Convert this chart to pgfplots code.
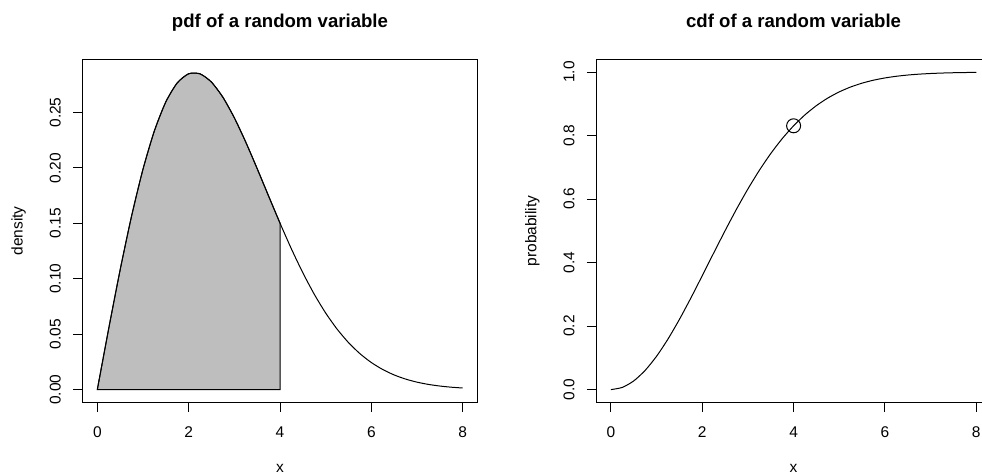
\documentclass[border=0pt]{standalone}
\usepackage{fontspec}
\setmainfont{Liberation Sans}
\usepackage{pgfplots}
\pgfplotsset{compat=1.18}
\definecolor{rgray}{RGB}{190,190,190}

% density and distribution
\pgfplotstableread{
x     pdf     cdf
0.00  0.00000 0.00000
0.25  0.05517 0.00692
0.50  0.10807 0.02740
0.75  0.15657 0.06059
1.00  0.19885 0.10516
1.25  0.23351 0.15938
1.50  0.25960 0.22120
1.75  0.27673 0.28841
2.00  0.28497 0.35882
2.25  0.28489 0.43022
2.50  0.27742 0.50065
2.75  0.26375 0.56841
3.00  0.24525 0.63212
3.25  0.22334 0.69076
3.50  0.19940 0.74363
3.75  0.17468 0.79039
4.00  0.15023 0.83099
4.25  0.12692 0.86561
4.50  0.10540 0.89460
4.75  0.08605 0.91848
5.00  0.06909 0.93782
5.25  0.05457 0.95323
5.50  0.04241 0.96530
5.75  0.03243 0.97462
6.00  0.02442 0.98168
6.25  0.01811 0.98696
6.50  0.01322 0.99085
6.75  0.00950 0.99367
7.00  0.00672 0.99568
7.25  0.00468 0.99709
7.50  0.00322 0.99807
7.75  0.00217 0.99874
8.00  0.00145 0.99918
}\curve

% shaded part, x from 0 to 4
\pgfplotstableread{
x     pdf
0.00  0.00000
0.25  0.05517
0.50  0.10807
0.75  0.15657
1.00  0.19885
1.25  0.23351
1.50  0.25960
1.75  0.27673
2.00  0.28497
2.25  0.28489
2.50  0.27742
2.75  0.26375
3.00  0.24525
3.25  0.22334
3.50  0.19940
3.75  0.17468
4.00  0.15023
}\area

\pgfplotsset{
  rpanel/.style={
    overlay,
    scale only axis,
    anchor=south west,
    width=394.6bp, height=342.6bp,
    xmin=-0.32, xmax=8.32,
    axis line style={line width=1bp},
    tick style={line width=1bp, black},
    tick align=outside,
    major tick length=9.5bp,
    xtick pos=bottom, ytick pos=left,
    xtick={0,2,4,6,8},
    font=\fontsize{15.5bp}{18bp}\selectfont,
    /pgf/number format/assume math mode=true,
    xticklabel style={anchor=base},
    yticklabel style={anchor=base, rotate=90},
    xticklabel shift=25.9bp,
    yticklabel shift=12.5bp,
    every axis title/.style={at={(axis description cs:0.5,1)}, anchor=base, yshift=31.7bp,
      font=\fontsize{18.6bp}{22bp}\selectfont\bfseries},
    every axis x label/.style={at={(axis description cs:0.5,0)}, anchor=base, yshift=-70.5bp},
    every axis y label/.style={at={(axis description cs:0,0.5)}, xshift=-60bp, rotate=90, anchor=base},
    xlabel={x},
  }
}

\begin{document}
\begin{tikzpicture}
\path[use as bounding box] (0,0) rectangle (982bp,476bp);

\begin{axis}[rpanel,
  at={(82.7bp,73.7bp)},
  ymin=-0.01145, ymax=0.29765,
  ytick={0,0.05,0.10,0.15,0.20,0.25},
  yticklabel style={/pgf/number format/.cd, fixed, fixed zerofill, precision=2},
  title={pdf of a random variable},
  ylabel={density}]
\addplot[fill=rgray, draw=black, line width=1bp, smooth, tension=0.4] table[x=x, y=pdf] {\area} -- (axis cs:4,0) -- cycle;
\addplot[black, line width=1bp, smooth, tension=0.4] table[x=x, y=pdf] {\curve};
\end{axis}

\begin{axis}[rpanel,
  at={(596.3bp,73.7bp)},
  ymin=-0.03997, ymax=1.03915,
  ytick={0,0.2,0.4,0.6,0.8,1.0},
  yticklabel style={/pgf/number format/.cd, fixed, fixed zerofill, precision=1},
  title={cdf of a random variable},
  ylabel={probability}]
\addplot[black, line width=1bp, smooth, tension=0.4] table[x=x, y=cdf] {\curve};
\addplot[only marks, mark=o, mark size=7bp, mark options={line width=1bp, black}] coordinates {(4,0.83099)};
\end{axis}
\end{tikzpicture}
\end{document}
